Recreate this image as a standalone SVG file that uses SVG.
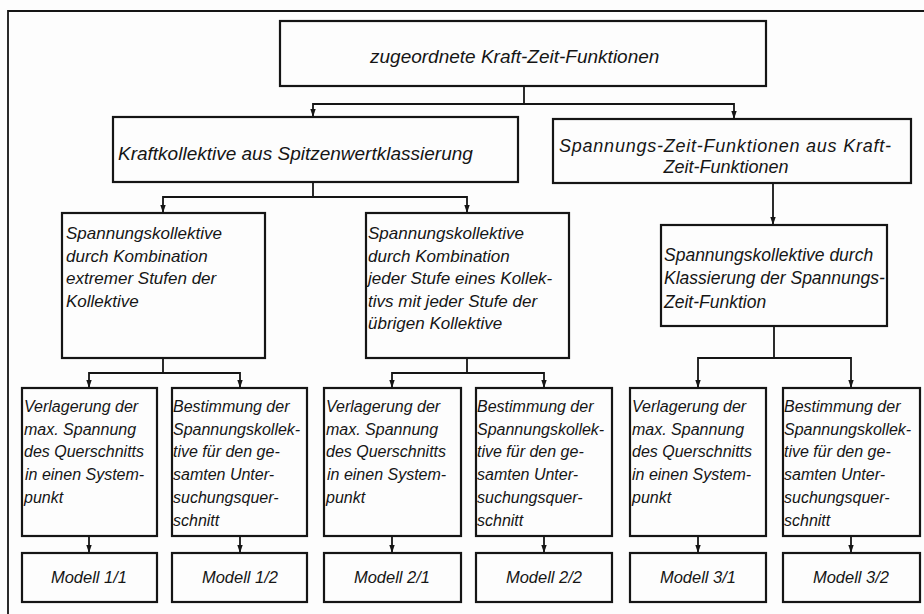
<svg xmlns="http://www.w3.org/2000/svg" width="924" height="614" viewBox="0 0 924 614">
<defs>
<marker id="ah" markerWidth="8" markerHeight="7" refX="8" refY="3.5" orient="auto" markerUnits="userSpaceOnUse">
<path d="M0,0.8 L8,3.5 L0,6.2 z" fill="#151515"/>
</marker>
<style>
.box{fill:none;stroke:#151515;stroke-width:2.2}
.ln{fill:none;stroke:#151515;stroke-width:1.8}
.ar{marker-end:url(#ah)}
text{font-family:"Liberation Sans","DejaVu Sans",sans-serif;font-style:italic;fill:#151515}
.t19{font-size:19px}
.t18{font-size:18px}
.t17{font-size:17px}
.t16{font-size:16px}
.tm{font-size:16.5px;text-anchor:middle}
</style>
</defs>
<rect width="924" height="614" fill="#fdfdfd"/>
<path class="ln" d="M8,614 V11 H924" stroke-width="2"/>

<g id="connectors">
<path class="ln" d="M524,86 V104"/>
<path class="ln ar" d="M524,104 H313 V117"/>
<path class="ln ar" d="M524,104 H734 V119"/>
<path class="ln" d="M313,182 V197"/>
<path class="ln ar" d="M313,197 H163 V213"/>
<path class="ln ar" d="M313,197 H467 V213"/>
<path class="ln ar" d="M773,183 V225"/>
<path class="ln" d="M163,358 V373"/>
<path class="ln ar" d="M163,373 H89 V388"/>
<path class="ln ar" d="M163,373 H240 V388"/>
<path class="ln" d="M467,358 V373"/>
<path class="ln ar" d="M467,373 H392 V388"/>
<path class="ln ar" d="M467,373 H544 V388"/>
<path class="ln" d="M774,326 V358"/>
<path class="ln ar" d="M774,358 H698 V388"/>
<path class="ln ar" d="M774,358 H851 V388"/>
<path class="ln ar" d="M89,536 V553"/>
<path class="ln ar" d="M240,536 V553"/>
<path class="ln ar" d="M392,536 V553"/>
<path class="ln ar" d="M544,536 V553"/>
<path class="ln ar" d="M698,536 V553"/>
<path class="ln ar" d="M851,536 V553"/>
</g>

<g id="n-top">
<rect class="box" x="280" y="21" width="486" height="65"/>
<text class="t19" x="370" y="63">zugeordnete Kraft-Zeit-Funktionen</text>
</g>

<g id="n-kraftkollektive">
<rect class="box" x="113" y="117" width="405" height="65"/>
<text class="t19" x="118" y="160">Kraftkollektive aus Spitzenwertklassierung</text>
</g>

<g id="n-spannungs-zeit">
<rect class="box" x="553" y="119" width="358" height="64"/>
<text class="t18" x="559" y="152" textLength="332" lengthAdjust="spacing">Spannungs-Zeit-Funktionen aus Kraft-</text>
<text class="t18" x="726" y="173" text-anchor="middle">Zeit-Funktionen</text>
</g>

<g id="n-extrem">
<rect class="box" x="62" y="213" width="203" height="145"/>
<text class="t17"><tspan x="66" y="239">Spannungskollektive</tspan><tspan x="66" y="261.5">durch Kombination</tspan><tspan x="66" y="284">extremer Stufen der</tspan><tspan x="66" y="306.5">Kollektive</tspan></text>
</g>

<g id="n-jede-stufe">
<rect class="box" x="366" y="213" width="203" height="145"/>
<text class="t17"><tspan x="368" y="239">Spannungskollektive</tspan><tspan x="368" y="261.5">durch Kombination</tspan><tspan x="368" y="284">jeder Stufe eines Kollek-</tspan><tspan x="368" y="306.5">tivs mit jeder Stufe der</tspan><tspan x="368" y="329">übrigen Kollektive</tspan></text>
</g>

<g id="n-klassierung">
<rect class="box" x="661" y="225" width="226" height="101"/>
<text style="font-size:17.5px"><tspan x="664" y="261">Spannungskollektive durch</tspan><tspan x="664" y="284">Klassierung der Spannungs-</tspan><tspan x="664" y="308">Zeit-Funktion</tspan></text>
</g>

<g id="n-verl-1">
<rect class="box" x="22" y="388" width="135" height="148"/>
<text class="t16"><tspan x="24" y="412">Verlagerung der</tspan><tspan x="24" y="434.7">max. Spannung</tspan><tspan x="24" y="457.4">des Querschnitts</tspan><tspan x="25" y="480">in einen System-</tspan><tspan x="24" y="502.8">punkt</tspan></text>
</g>

<g id="n-best-1">
<rect class="box" x="172" y="388" width="135" height="148"/>
<text class="t16"><tspan x="173" y="412">Bestimmung der</tspan><tspan x="173" y="434.7">Spannungskollek-</tspan><tspan x="173" y="457.4">tive für den ge-</tspan><tspan x="173" y="480">samten Unter-</tspan><tspan x="173" y="502.8">suchungsquer-</tspan><tspan x="173" y="525.5">schnitt</tspan></text>
</g>

<g id="n-verl-2">
<rect class="box" x="324" y="388" width="137" height="148"/>
<text class="t16"><tspan x="326" y="412">Verlagerung der</tspan><tspan x="326" y="434.7">max. Spannung</tspan><tspan x="326" y="457.4">des Querschnitts</tspan><tspan x="327" y="480">in einen System-</tspan><tspan x="326" y="502.8">punkt</tspan></text>
</g>

<g id="n-best-2">
<rect class="box" x="476" y="388" width="136" height="148"/>
<text class="t16"><tspan x="477" y="412">Bestimmung der</tspan><tspan x="477" y="434.7">Spannungskollek-</tspan><tspan x="477" y="457.4">tive für den ge-</tspan><tspan x="477" y="480">samten Unter-</tspan><tspan x="477" y="502.8">suchungsquer-</tspan><tspan x="477" y="525.5">schnitt</tspan></text>
</g>

<g id="n-verl-3">
<rect class="box" x="630" y="388" width="136" height="148"/>
<text class="t16"><tspan x="632" y="412">Verlagerung der</tspan><tspan x="632" y="434.7">max. Spannung</tspan><tspan x="632" y="457.4">des Querschnitts</tspan><tspan x="632" y="480">in einen System-</tspan><tspan x="632" y="502.8">punkt</tspan></text>
</g>

<g id="n-best-3">
<rect class="box" x="783" y="388" width="137" height="148"/>
<text class="t16"><tspan x="784" y="412">Bestimmung der</tspan><tspan x="784" y="434.7">Spannungskollek-</tspan><tspan x="784" y="457.4">tive für den ge-</tspan><tspan x="784" y="480">samten Unter-</tspan><tspan x="784" y="502.8">suchungsquer-</tspan><tspan x="784" y="525.5">schnitt</tspan></text>
</g>

<g id="m-1-1"><rect class="box" x="22" y="553" width="135" height="49"/><text class="tm" x="89" y="583">Modell 1/1</text></g>
<g id="m-1-2"><rect class="box" x="172" y="553" width="135" height="49"/><text class="tm" x="240" y="583">Modell 1/2</text></g>
<g id="m-2-1"><rect class="box" x="324" y="553" width="137" height="49"/><text class="tm" x="392" y="583">Modell 2/1</text></g>
<g id="m-2-2"><rect class="box" x="476" y="553" width="136" height="49"/><text class="tm" x="544" y="583">Modell 2/2</text></g>
<g id="m-3-1"><rect class="box" x="630" y="553" width="136" height="49"/><text class="tm" x="698" y="583">Modell 3/1</text></g>
<g id="m-3-2"><rect class="box" x="783" y="553" width="137" height="49"/><text class="tm" x="851" y="583">Modell 3/2</text></g>
</svg>
